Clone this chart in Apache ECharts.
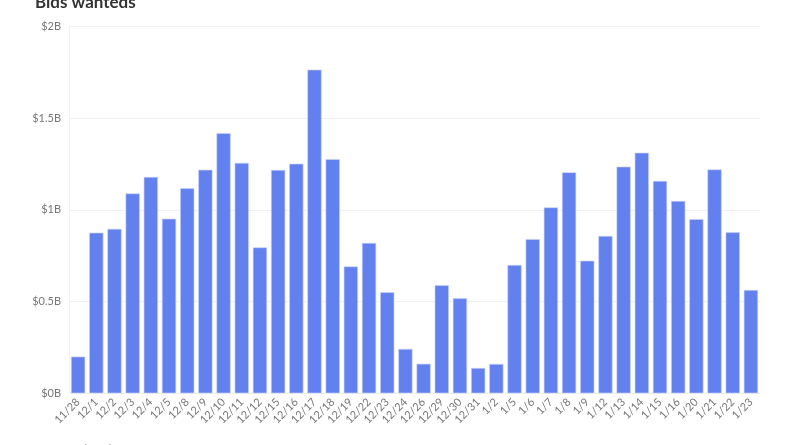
<!DOCTYPE html>
<html lang="en">
<head>
    <meta charset="UTF-8">
    <title>Bids wanteds</title>
    <script src="https://cdn.jsdelivr.net/npm/echarts@6/dist/echarts.min.js"></script>
    <style>
        body, html {
            margin: 0;
            padding: 0;
            background: #fff;
        }
        #chart {
            width: 800px;
            height: 445px;
        }
    </style>
</head>
<body>
<div id="chart"></div>
<script>
    // trading days
    const dates = [
        '11/28', '12/1', '12/2', '12/3', '12/4', '12/5', '12/8', '12/9', '12/10', '12/11',
        '12/12', '12/15', '12/16', '12/17', '12/18', '12/19', '12/22', '12/23', '12/24', '12/26',
        '12/29', '12/30', '12/31', '1/2', '1/5', '1/6', '1/7', '1/8', '1/9', '1/12',
        '1/13', '1/14', '1/15', '1/16', '1/20', '1/21', '1/22', '1/23'
    ];

    // bids wanted volume, $ billions
    const bidsWanted = [
        0.20, 0.876, 0.897, 1.09, 1.18, 0.952, 1.118, 1.219, 1.419, 1.257,
        0.796, 1.218, 1.252, 1.765, 1.277, 0.692, 0.82, 0.551, 0.242, 0.161,
        0.589, 0.518, 0.138, 0.16, 0.70, 0.841, 1.014, 1.205, 0.723, 0.858,
        1.236, 1.312, 1.158, 1.049, 0.95, 1.221, 0.878, 0.563
    ];

    const yTicks = [0, 0.5, 1, 1.5, 2];

    const chart = echarts.init(document.getElementById('chart'));
    const option = {
        animation: false,
        textStyle: { fontFamily: 'Lato' },
        title: [
            {
                text: 'Bids wanteds',
                left: 30,
                top: -11,
                textStyle: { fontFamily: 'Lato', fontSize: 17, fontWeight: 'bold', color: '#333' }
            },
            {
                text: 'Source: Bloomberg',
                left: 34,
                top: 439,
                textStyle: { fontFamily: 'Lato', fontSize: 11, fontWeight: 'normal', color: '#888' }
            }
        ],
        grid: {
            left: 69,
            right: 40,
            top: 26.6,
            bottom: 51.7
        },
        xAxis: {
            type: 'category',
            data: dates,
            axisLine: { show: true, lineStyle: { color: '#eeeeee' } },
            axisTick: { show: false },
            axisLabel: {
                rotate: 45,
                interval: 0,
                fontSize: 11,
                color: '#777',
                margin: 7
            }
        },
        yAxis: {
            type: 'value',
            min: yTicks[0],
            max: yTicks[yTicks.length - 1],
            interval: 0.5,
            axisLine: { show: true, lineStyle: { color: '#f2f2f2' } },
            axisTick: { show: false },
            splitLine: { lineStyle: { color: '#f0f0f0' } },
            axisLabel: {
                fontSize: 11,
                color: '#777',
                margin: 8,
                formatter: v => '$' + v + 'B'
            }
        },
        series: [
            {
                name: 'Bids wanteds',
                type: 'bar',
                data: bidsWanted,
                barCategoryGap: '22%',
                itemStyle: {
                    color: '#6380ef',
                    borderColor: '#c9d3fa',
                    borderWidth: 0.6
                }
            }
        ]
    };
    chart.setOption(option);
</script>
</body>
</html>
